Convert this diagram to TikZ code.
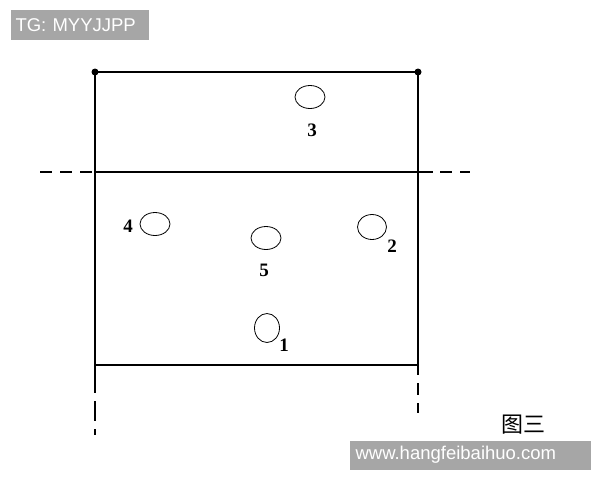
\documentclass[tikz,border=0pt]{standalone}
\usepackage{fontspec}
\setmainfont{Liberation Serif}
\setsansfont{Liberation Sans}
\newfontfamily\cjk{Noto Sans CJK SC}
\usetikzlibrary{positioning,shapes.geometric}

\definecolor{markgray}{HTML}{A6A6A6}

\begin{document}
\begin{tikzpicture}[x=1pt, y=-1pt, line width=1.1pt,
        hole/.style = {draw, ellipse, line width=0.8pt, inner sep=0pt, minimum width=30pt, minimum height=23pt},
        num/.style = {font=\fontsize{19}{19}\selectfont\bfseries, inner sep=0pt},
        watermark/.style = {fill=markgray, text=white, font=\sffamily\fontsize{18.5}{18.5}\selectfont, inner ysep=0pt, anchor=west, align=left}]
        \useasboundingbox (0,0) rectangle (600,480);

        % frame
        \coordinate (tl) at (95,72);
        \coordinate (tr) at (418,72);
        \coordinate (bl) at (95,365);
        \coordinate (br) at (418,365);
        \coordinate (ml) at (95,172);
        \coordinate (mr) at (418,172);
        \draw (bl) -- (tl) -- (tr) -- (br) -- cycle;
        \draw (ml) -- (mr);
        \fill (tl) circle (3.5pt);
        \fill (tr) circle (3.5pt);

        % dashed extensions
        \draw[dash pattern=on 12pt off 8pt] (40,172) -- (ml);
        \draw[dash pattern=on 15pt off 7pt on 12pt off 8pt on 10pt off 20pt] (mr) -- (475,172);
        \draw[dash pattern=on 28pt off 8pt on 20pt off 8pt on 8pt off 20pt] (bl) -- (95,435);
        \draw[dash pattern=on 10pt off 8pt on 12pt off 8pt on 10pt off 20pt] (br) -- (418,432);

        % holes
        \node[hole] (h3) at (310,97) {};
        \node[hole] (h4) at (155,224) {};
        \node[hole] (h5) at (266,238) {};
        \node[hole, minimum width=29pt, minimum height=25pt] (h2) at (372,227) {};
        \node[hole, minimum width=25pt, minimum height=29pt] (h1) at (267,328) {};

        \node[num] at (312,130) (n3) {3};
        \node[num] at (128,226) (n4) {4};
        \node[num] at (264,270) (n5) {5};
        \node[num] at (392,246) (n2) {2};
        \node[num] at (284,345) (n1) {1};

        \node[font=\cjk\fontsize{22}{22}\selectfont, inner sep=0pt] (fig) at (523,425) {图三};

        % watermarks
        \node[watermark, minimum height=30pt, inner xsep=5pt, text width=128pt] (tg) at (10,25) {TG: MYYJJPP};
        \node[watermark, minimum height=29pt, inner xsep=6pt, text width=229pt] (web) at (349,455) {www.hangfeibaihuo.com};
\end{tikzpicture}
\end{document}
